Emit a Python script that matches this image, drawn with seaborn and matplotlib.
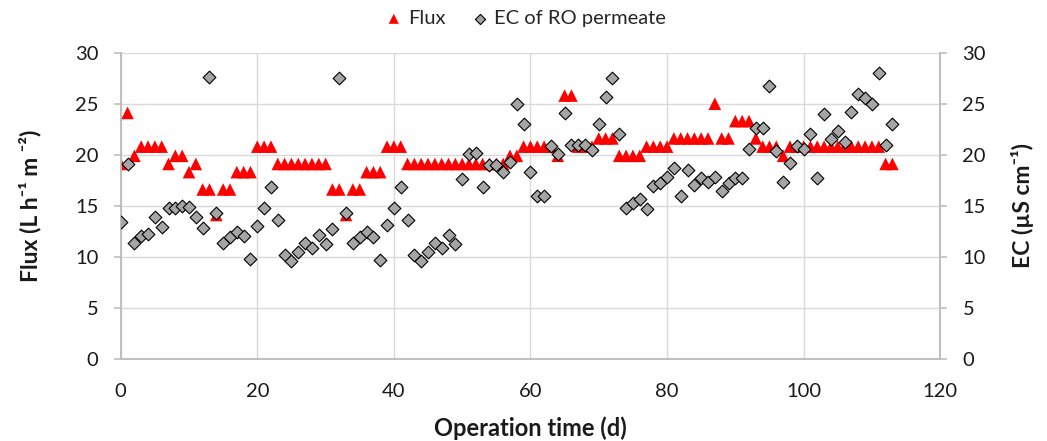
import matplotlib
matplotlib.use("Agg")
from matplotlib import pyplot as plt
import numpy as np
import pandas as pd
import seaborn as sns

# operation days
days = list(range(0, 114))

# permeate flux (L h-1 m-2), one reading per day
flux = [
    19.1, 24.1, 19.9, 20.8, 20.8, 20.8, 20.8, 19.1, 19.9, 19.9,   # 0-9
    18.3, 19.1, 16.6, 16.6, 14.1, 16.6, 16.6, 18.3, 18.3, 18.3,   # 10-19
    20.8, 20.8, 20.8, 19.1, 19.1, 19.1, 19.1, 19.1, 19.1, 19.1,   # 20-29
    19.1, 16.6, 16.6, 14.1, 16.6, 16.6, 18.3, 18.3, 18.3, 20.8,   # 30-39
    20.8, 20.8, 19.1, 19.1, 19.1, 19.1, 19.1, 19.1, 19.1, 19.1,   # 40-49
    19.1, 19.1, 19.1, 19.1, 19.1, 19.1, 19.1, 19.9, 19.9, 20.8,   # 50-59
    20.8, 20.8, 20.8, 20.8, 19.9, 25.8, 25.8, 20.8, 20.8, 20.8,   # 60-69
    21.6, 21.6, 21.6, 19.9, 19.9, 19.9, 19.9, 20.8, 20.8, 20.8,   # 70-79
    20.8, 21.6, 21.6, 21.6, 21.6, 21.6, 21.6, 25.0, 21.6, 21.6,   # 80-89
    23.3, 23.3, 23.3, 21.6, 20.8, 20.8, 20.8, 19.9, 20.8, 20.8,   # 90-99
    20.8, 20.8, 20.8, 20.8, 20.8, 20.8, 20.8, 20.8, 20.8, 20.8,   # 100-109
    20.8, 20.8, 19.1, 19.1,                                       # 110-113
]

# EC of RO permeate (uS cm-1)
ec = [
    13.4, 19.1, 11.4, 12.0, 12.2, 13.9, 12.9, 14.8, 14.8, 15.0,   # 0-9
    14.9, 13.9, 12.8, 27.6, 14.3, 11.4, 11.9, 12.4, 12.0, 9.8,    # 10-19
    13.0, 14.8, 16.8, 13.6, 10.2, 9.6, 10.5, 11.4, 10.9, 12.1,    # 20-29
    11.3, 12.7, 27.5, 14.3, 11.4, 11.9, 12.4, 11.9, 9.7, 13.1,    # 30-39
    14.8, 16.8, 13.6, 10.2, 9.6, 10.5, 11.4, 10.9, 12.1, 11.3,    # 40-49
    17.6, 20.1, 20.2, 16.8, 19.0, 19.0, 18.3, 19.3, 25.0, 23.0,   # 50-59
    18.3, 16.0, 16.0, 20.9, 20.1, 24.1, 21.0, 21.0, 21.0, 20.5,   # 60-69
    23.0, 25.7, 27.5, 22.0, 14.8, 15.3, 15.7, 14.7, 16.9, 17.2,   # 70-79
    17.8, 18.7, 16.0, 18.5, 17.0, 17.7, 17.3, 17.8, 16.5, 17.2,   # 80-89
    17.7, 17.7, 20.6, 22.6, 22.6, 26.7, 20.4, 17.3, 19.2, 20.9,   # 90-99
    20.6, 22.0, 17.7, 24.0, 21.5, 22.3, 21.3, 24.2, 26.0, 25.6,   # 100-109
    25.0, 28.0, 21.0, 23.0,                                       # 110-113
]

df = pd.DataFrame({"day": days, "flux": flux, "ec": ec})

sns.set_theme(style="white")
plt.rcParams["font.family"] = ["Lato", "DejaVu Sans"]

axis_grey = "#BFBFBF"
grid_grey = "#D9D9D9"
txt = "#1a1a1a"

fig, ax = plt.subplots(figsize=(10.47, 4.41), dpi=100)
fig.subplots_adjust(left=0.1153, right=0.898, bottom=0.186, top=0.8805)

sns.scatterplot(data=df, x="day", y="flux", ax=ax, marker="^", s=82,
                color="#FF0000", edgecolor="none", linewidth=0, label="Flux",
                legend=False, zorder=3)

ax2 = ax.twinx()
sns.scatterplot(data=df, x="day", y="ec", ax=ax2, marker="D", s=42,
                color="#A5A5A5", edgecolor="black", linewidth=0.8,
                label="EC of RO permeate", legend=False, zorder=3)

for a in (ax, ax2):
    a.set_xlim(0, 120)
    a.set_ylim(0, 30)
    a.set_yticks(range(0, 31, 5))
    for s in a.spines.values():
        s.set_color(axis_grey)
        s.set_linewidth(1.3)
    a.spines["top"].set_visible(False)
    a.tick_params(axis="both", length=5, width=1.2, color=axis_grey,
                  labelsize=14.5, labelcolor=txt, direction="out")

ax.set_xticks(range(0, 121, 20))
ax.grid(True, color=grid_grey, linewidth=1)
ax.set_axisbelow(True)
ax2.grid(False)
ax.tick_params(axis="x", pad=12)
ax.tick_params(axis="y", pad=11)
ax2.tick_params(axis="y", pad=11)

ax.set_xlabel("Operation time (d)", fontsize=17, fontweight="bold", color=txt, labelpad=12)
ax.set_ylabel("Flux (L h\u207b\u00b9 m \u207b\u00b2)", fontsize=16.5, fontweight="bold",
              color=txt, labelpad=24)
ax2.set_ylabel("EC (\u00b5S cm\u207b\u00b9)", fontsize=16.5, fontweight="bold",
               color=txt, rotation=90, labelpad=18)

h1, l1 = ax.get_legend_handles_labels()
h2, l2 = ax2.get_legend_handles_labels()
fig.legend(h1 + h2, l1 + l2, loc="center", bbox_to_anchor=(0.503, 0.958),
           ncol=2, frameon=False, fontsize=14.5, handlelength=0.6,
           handletextpad=0.4, columnspacing=1.4, markerscale=0.8)

fig.savefig("out.png", dpi=100)
